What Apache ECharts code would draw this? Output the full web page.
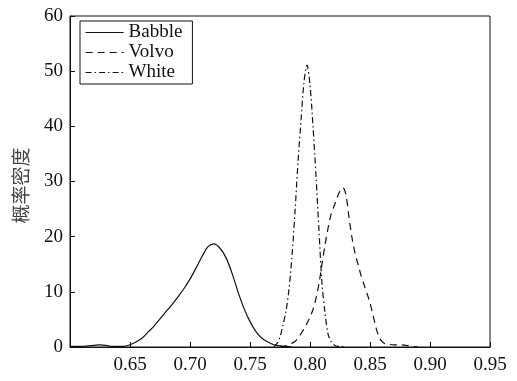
<!DOCTYPE html>
<html>
<head>
<meta charset="utf-8">
<script src="https://cdn.jsdelivr.net/npm/echarts@6/dist/echarts.min.js"></script>
<style>
  html, body { margin: 0; padding: 0; background: #fff; }
  #chart { width: 517px; height: 381px; }
</style>
</head>
<body>
<div id="chart"></div>
<script>
// series names
const seriesNames = ['Babble', 'Volvo', 'White']

// Babble (solid)
const babbleX = [0.600, 0.605, 0.610, 0.615, 0.620, 0.625, 0.630, 0.635, 0.640, 0.645,
    0.650, 0.655, 0.660, 0.665, 0.670, 0.675, 0.680, 0.685, 0.690, 0.695,
    0.700, 0.705, 0.710, 0.715, 0.720, 0.725, 0.730, 0.735, 0.740, 0.745,
    0.750, 0.755, 0.760, 0.765, 0.770, 0.775, 0.780, 0.785]
const babbleY = [0.1, 0.1, 0.1, 0.2, 0.3, 0.4, 0.3, 0.1, 0.1, 0.1,
    0.4, 0.9, 1.6, 2.7, 3.8, 5.1, 6.4, 7.7, 9.1, 10.6,
    12.3, 14.3, 16.4, 18.2, 18.7, 17.9, 16.2, 13.4, 10.0, 7.0,
    4.6, 2.8, 1.6, 0.9, 0.4, 0.2, 0.1, 0.0]

// Volvo (dashed)
const volvoX = [0.7750, 0.7775, 0.7800, 0.7825, 0.7850, 0.7875, 0.7900, 0.7925, 0.7950, 0.7975,
    0.8000, 0.8025, 0.8050, 0.8075, 0.8100, 0.8125, 0.8150, 0.8175, 0.8200, 0.8225,
    0.8250, 0.8275, 0.8300, 0.8325, 0.8350, 0.8375, 0.8400, 0.8425, 0.8450, 0.8475,
    0.8500, 0.8525, 0.8550, 0.8575, 0.8600, 0.8625, 0.8650, 0.8700, 0.8750, 0.8800,
    0.8850, 0.8900]
const volvoY = [0.0, 0.1, 0.2, 0.4, 0.7, 1.0, 1.6, 2.4, 3.3, 4.3,
    5.4, 6.8, 8.8, 11.5, 15.0, 18.5, 21.5, 24.0, 25.5, 27.0,
    28.3, 28.9, 27.5, 23.5, 19.8, 17.0, 15.0, 13.0, 11.3, 9.7,
    8.0, 5.8, 3.5, 1.8, 1.0, 0.6, 0.5, 0.4, 0.4, 0.3,
    0.1, 0.0]

// White (dash-dot)
const whiteX = [0.7700, 0.7725, 0.7750, 0.7775, 0.7800, 0.7825, 0.7850, 0.7875, 0.7900, 0.7925,
    0.7950, 0.7975, 0.8000, 0.8025, 0.8050, 0.8075, 0.8100, 0.8125, 0.8150, 0.8175,
    0.8200, 0.8225, 0.8250, 0.8300]
const whiteY = [0.1, 0.6, 1.8, 4.0, 6.5, 10.5, 16.5, 24.5, 33.5, 41.0,
    48.0, 51.1, 47.5, 40.0, 31.0, 21.0, 11.5, 6.2, 2.4, 1.0,
    0.4, 0.1, 0.1, 0.0]

const serif = "'Liberation Serif', 'DejaVu Serif', serif"
const ink = '#111'

function pairs(xs, ys) {
    return xs.map((x, i) => [x, ys[i]])
}

const chart = echarts.init(document.getElementById('chart'), null, { renderer: 'canvas' })

const lineBase = {
    type: 'line',
    symbol: 'none',
    smooth: 0.3,
    animation: false,
    z: 3,
}

chart.setOption({
    backgroundColor: '#fff',
    animation: false,
    grid: {
        left: 70,
        right: 27,
        top: 16,
        bottom: 34,
        show: true,
        borderColor: ink,
        borderWidth: 1,
        outerBoundsMode: 'none',
    },
    legend: {
        data: seriesNames,
        orient: 'vertical',
        left: 80,
        top: 21,
        padding: [2, 10, 2, 5],
        itemGap: 1,
        itemWidth: 38,
        itemHeight: 18,
        borderColor: ink,
        borderWidth: 1,
        backgroundColor: '#fff',
        itemStyle: { opacity: 0 },
        lineStyle: { width: 1.2 },
        textStyle: { fontFamily: serif, fontSize: 19, color: ink },
    },
    xAxis: {
        type: 'value',
        min: 0.6,
        max: 0.95,
        interval: 0.05,
        axisLine: { lineStyle: { color: ink, width: 1 } },
        axisTick: { inside: true, length: 5, lineStyle: { color: ink } },
        splitLine: { show: false },
        axisLabel: {
            margin: 9,
            fontFamily: serif,
            fontSize: 19,
            color: ink,
            formatter: (v) => (v < 0.62 ? '' : v.toFixed(2)),
        },
    },
    yAxis: {
        type: 'value',
        min: 0,
        max: 60,
        interval: 10,
        name: '概率密度',
        nameLocation: 'middle',
        nameGap: 40,
        nameTextStyle: { fontFamily: "'Noto Sans CJK SC'", fontSize: 19, color: '#444', padding: [0, 8, 0, 0] },
        axisLine: { lineStyle: { color: ink, width: 1 } },
        axisTick: { inside: true, length: 5, lineStyle: { color: ink } },
        splitLine: { show: false },
        axisLabel: { margin: 7, fontFamily: serif, fontSize: 19, color: ink },
    },
    series: [
        {
            ...lineBase,
            name: seriesNames[0],
            data: pairs(babbleX, babbleY),
            lineStyle: { color: ink, width: 1.2, type: 'solid' },
            itemStyle: { color: ink },
        },
        {
            ...lineBase,
            name: seriesNames[1],
            data: pairs(volvoX, volvoY),
            lineStyle: { color: ink, width: 1.2, type: [7, 5] },
            itemStyle: { color: ink },
        },
        {
            ...lineBase,
            name: seriesNames[2],
            data: pairs(whiteX, whiteY),
            lineStyle: { color: ink, width: 1.2, type: [6, 3, 1.5, 3] },
            itemStyle: { color: ink },
        },
    ],
})
</script>
</body>
</html>
